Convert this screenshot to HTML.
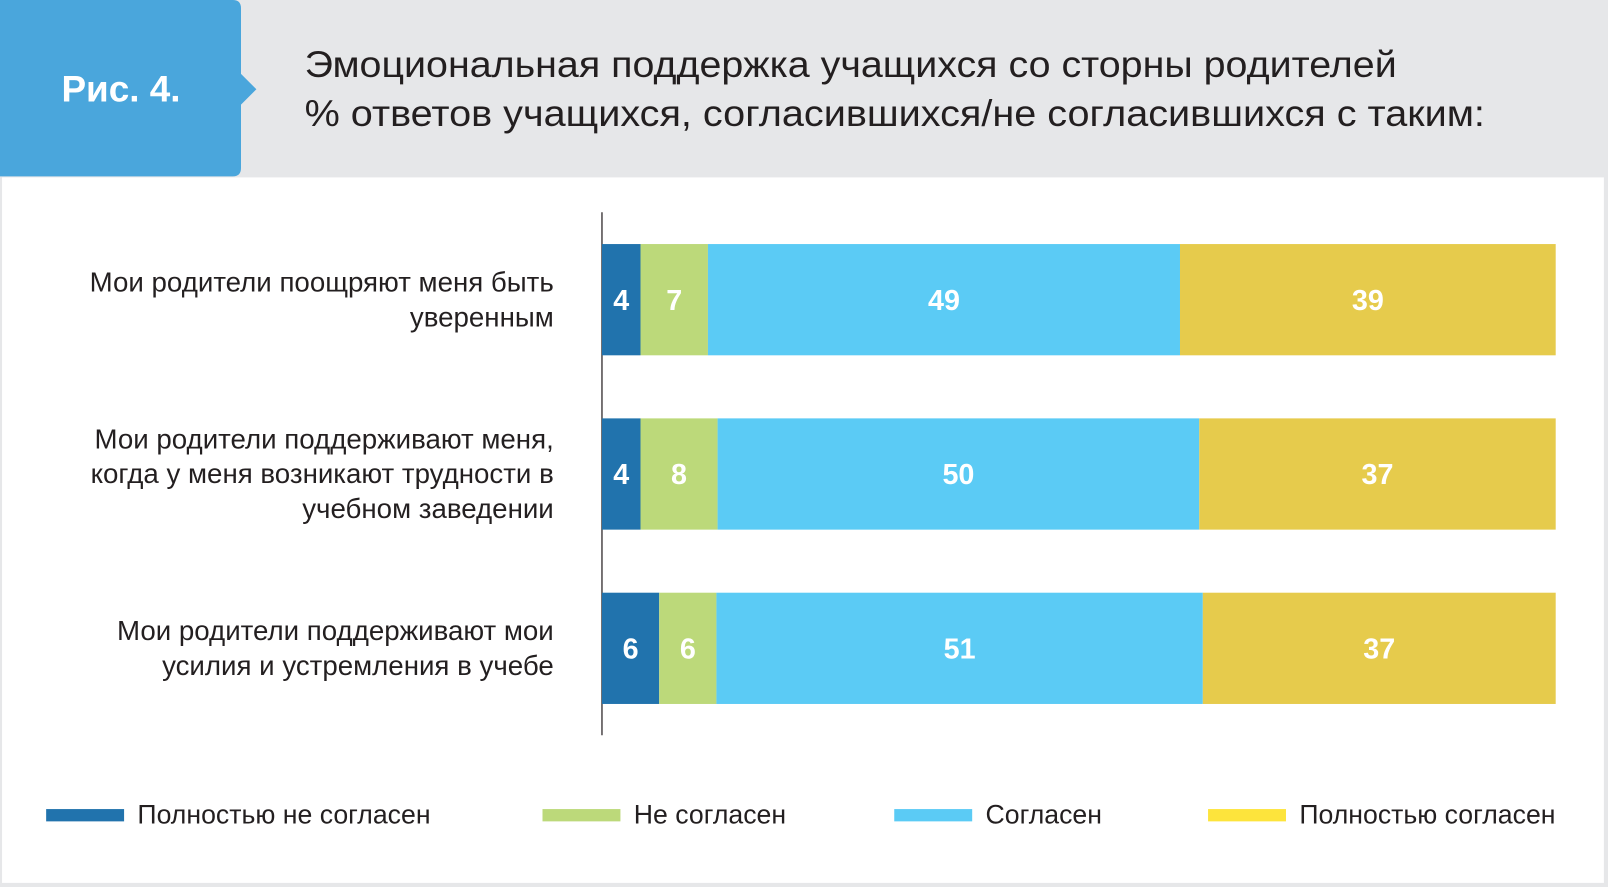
<!DOCTYPE html>
<html><head><meta charset="utf-8"><style>
html,body{margin:0;padding:0;background:#e6e7e9;}
svg{display:block;font-family:"Liberation Sans","DejaVu Sans",sans-serif;}
</style></head><body>
<svg id="chart" width="1608" height="887" viewBox="0 0 1568 865" preserveAspectRatio="none" xmlns="http://www.w3.org/2000/svg">
<rect x="0" y="0" width="1568" height="865" fill="#e6e7e9"/>
<rect x="2" y="173" width="1562" height="688" fill="#ffffff"/>
<path d="M0,0 H227 Q235,0 235,8 V72 L250,87 L235,102 V164 Q235,172 227,172 H0 Z" fill="#4aa6dc"/>
<text x="118" y="99" text-anchor="middle" font-size="36" font-weight="bold" fill="#fff">Рис. 4.</text>
<text x="297" y="75" font-size="36" fill="#231f20" textLength="1065" lengthAdjust="spacingAndGlyphs">Эмоциональная поддержка учащихся со сторны родителей</text>
<text x="297" y="123" font-size="36" fill="#231f20" textLength="1151" lengthAdjust="spacingAndGlyphs">% ответов учащихся,  согласившихся/не согласившихся с таким:</text>
<line x1="587" y1="207" x2="587" y2="717" stroke="#231f20" stroke-width="1.2"/>
<g id="bars"></g>
<g id="legend"></g>
</svg>
<script>
const categories = [
  ["Мои родители поощряют меня быть","уверенным"],
  ["Мои родители поддерживают меня,","когда у меня возникают трудности в","учебном заведении"],
  ["Мои родители поддерживают мои","усилия и устремления в учебе"]
];
const seriesNames = ["Полностью не согласен","Не согласен","Согласен","Полностью согласен"];
const stronglyDisagree = [4,4,6];
const disagree = [7,8,6];
const agree = [49,50,51];
const stronglyAgree = [39,37,37];
const colors = ["#2173ad","#bcd97a","#5bcbf5","#e6cb4c"];
const legendColors = ["#2173ad","#bcd97a","#5bcbf5","#fde43c"];
const NS = "http://www.w3.org/2000/svg";
const series = [stronglyDisagree, disagree, agree, stronglyAgree];
const x0 = 587, x1 = 1517, rowTop = [238,408,578], barH = 108.5;
const bars = document.getElementById('bars');
function mk(tag, attrs){const e=document.createElementNS(NS,tag);for(const k in attrs)e.setAttribute(k,attrs[k]);return e;}
categories.forEach((cat,i)=>{
  const total = series.reduce((s,a)=>s+a[i],0);
  const xs = v => x0 + v/total*(x1-x0);
  let cum = 0;
  series.forEach((arr,j)=>{
    const v = arr[i];
    const r = mk('rect',{x:xs(cum),y:rowTop[i],width:xs(cum+v)-xs(cum),height:barH,fill:colors[j]});
    
    
    bars.appendChild(r);
    const t = mk('text',{x:(xs(cum)+xs(cum+v))/2,y:rowTop[i]+barH/2+10,'text-anchor':'middle','font-size':28,'font-weight':'bold',fill:'#fff'});
    t.textContent = v;
    
    
    bars.appendChild(t);
    cum += v;
  });
  const mid = rowTop[i]+barH/2;
  const lh = 34, n = cat.length;
  cat.forEach((line,k)=>{
    const t = mk('text',{x:540,y:mid+(k-(n-1)/2)*lh+9,'text-anchor':'end','font-size':27,fill:'#231f20'});
    t.textContent = line;
    
    
    bars.appendChild(t);
  });
});
const legend = document.getElementById('legend');
const legX = [45,529,872,1178];
seriesNames.forEach((n,j)=>{
  const r = mk('rect',{x:legX[j],y:789,width:76,height:12,fill:legendColors[j]});
  
  
  legend.appendChild(r);
  const t = mk('text',{x:legX[j]+89,y:803,'font-size':26,fill:'#231f20'});
  t.textContent = n;
  
  
  legend.appendChild(t);
});
</script>
</body></html>
